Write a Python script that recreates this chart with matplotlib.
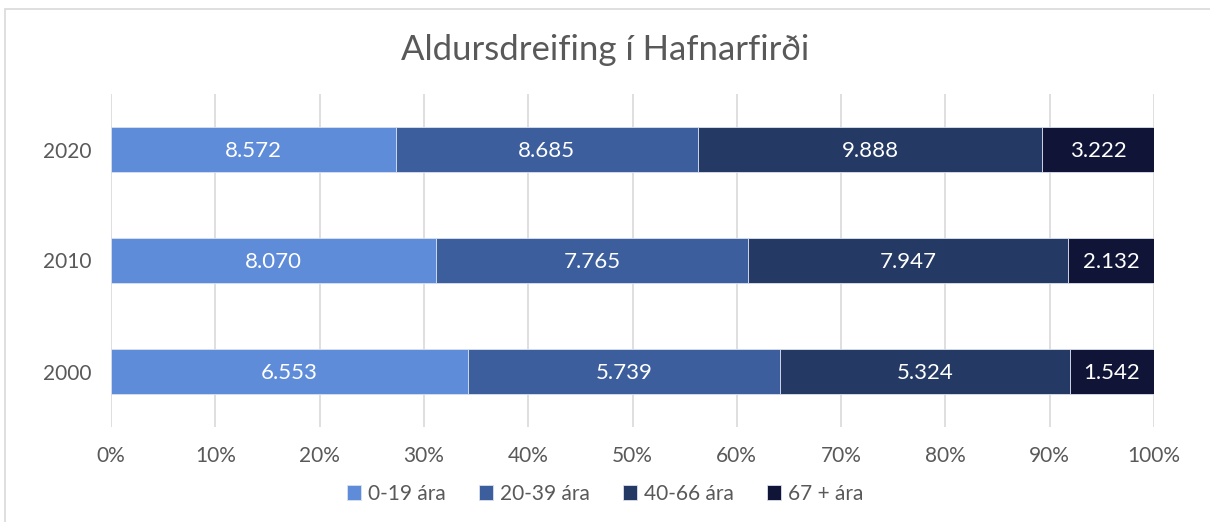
import numpy as np
import matplotlib
matplotlib.use("Agg")
import matplotlib.pyplot as plt
from matplotlib.patches import Rectangle

plt.rcParams['font.family'] = ['Lato', 'DejaVu Sans']

years = ["2000", "2010", "2020"]
groups = ["0-19 ára", "20-39 ára", "40-66 ára", "67 + ára"]
# bar lengths as drawn (the 2020 bar is drawn from slightly different numbers than its labels)
a0_19 = [6553, 8070, 8572]
a20_39 = [5739, 7765, 9068]
a40_66 = [5324, 7947, 10372]
a67 = [1542, 2132, 3356]
# labels shown on the bars
lab0_19 = ["6.553", "8.070", "8.572"]
lab20_39 = ["5.739", "7.765", "8.685"]
lab40_66 = ["5.324", "7.947", "9.888"]
lab67 = ["1.542", "2.132", "3.222"]
colors = ["#5E8CD9", "#3C5E9C", "#243A64", "#101538"]

txt = "#595959"
series = np.array([a0_19, a20_39, a40_66, a67], dtype=float)
labels = [lab0_19, lab20_39, lab40_66, lab67]
shares = series / series.sum(axis=0)

fig = plt.figure(figsize=(12.1, 5.22), dpi=100)
fig.patches.append(Rectangle((0.004, -0.1), 1.2, 1.083, transform=fig.transFigure,
                             fill=False, edgecolor="#D9D9D9", lw=1.2))
ax = fig.add_axes([111/1210, 1-427/522, 1043/1210, 333/522])

y = np.arange(len(years))
left = np.zeros(len(years))
for i, g in enumerate(groups):
    ax.barh(y, shares[i], left=left, height=0.4, color=colors[i], label=g,
            edgecolor="#D9E1F2", linewidth=0.6, zorder=3)
    for j in range(len(years)):
        ax.text(left[j] + shares[i, j] / 2, y[j] - 0.01, labels[i][j], ha="center",
                va="center", color="white", fontsize=16, zorder=4)
    left += shares[i]

ax.set_xlim(0, 1)
ax.set_ylim(-0.5, 2.5)
ax.set_xticks(np.arange(0, 1.01, 0.1))
ax.set_xticklabels([f"{int(round(v*100))}%" for v in np.arange(0, 1.01, 0.1)])
ax.set_yticks(y)
ax.set_yticklabels(years)
ax.tick_params(axis="both", length=0, labelsize=15, labelcolor=txt)
ax.tick_params(axis="x", pad=14)
ax.tick_params(axis="y", pad=14)
ax.grid(axis="x", color="#D9D9D9", lw=1.2, zorder=0)
for s in ax.spines.values():
    s.set_visible(False)

fig.text(0.5, 1-50/522, "Aldursdreifing í Hafnarfirði", ha="center", va="center",
         fontsize=25, color=txt)
fig.legend(loc="center", bbox_to_anchor=(0.5, 1-494/522), ncol=4, frameon=False,
           fontsize=15, labelcolor=txt, handlelength=0.7, handleheight=0.7,
           handletextpad=0.3, columnspacing=1.6)

fig.savefig("out.png", dpi=100)
